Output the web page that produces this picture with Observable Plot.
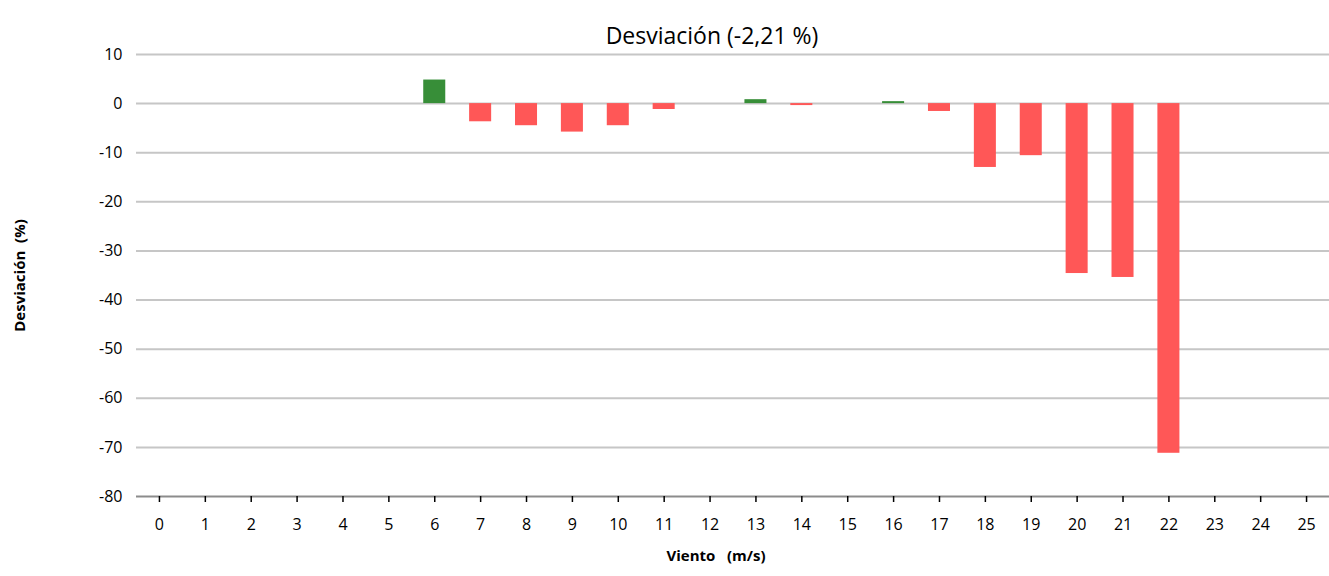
<!DOCTYPE html>
<html><head><meta charset="utf-8">
<script src="https://cdn.jsdelivr.net/npm/d3@7"></script>
<script src="https://cdn.jsdelivr.net/npm/@observablehq/plot@0.6"></script>
<style>body{margin:0;background:#fff;}</style>
</head><body><div id="chart"></div>
<script>
const title = "Desviación (-2,21 %)";
const xLabel = "Viento\u00a0\u00a0\u00a0(m/s)";
const yLabel = "Desviación\u00a0\u00a0(%)";
const windSpeeds = [0,1,2,3,4,5,6,7,8,9,10,11,12,13,14,15,16,17,18,19,20,21,22,23,24,25];
const deviation = [0,0,0,0,0,0,4.8,-3.7,-4.5,-5.8,-4.5,-1.2,0,0.8,-0.4,0,0.4,-1.6,-13.0,-10.6,-34.6,-35.4,-71.2,0,0,0];
const yTicks = [10,0,-10,-20,-30,-40,-50,-60,-70,-80];
const gridTicks = [10,0,-10,-20,-30,-40,-50,-60,-70];

const data = windSpeeds.map((w, i) => ({wind: String(w), dev: deviation[i]}));
const green = "#378e38", red = "#ff5757";

const chart = Plot.plot({
  width: 1329, height: 576,
  marginLeft: 136, marginRight: 0, marginTop: 54, marginBottom: 80,
  style: {fontFamily: "'Open Sans', sans-serif", fontSize: "16px", color: "#000", background: "#fff"},
  x: {type: "band", domain: windSpeeds.map(String), paddingInner: 0.52, paddingOuter: 0.26, round: false},
  y: {domain: [-80, 10]},
  marks: [
    Plot.ruleY(gridTicks, {stroke: "#c6c6c6", strokeWidth: 2}),
    Plot.ruleY([-80], {stroke: "#8c8c8c", strokeWidth: 2}),
    Plot.barY(data.filter(d => d.dev !== 0), {x: "wind", y: "dev", fill: d => d.dev >= 0 ? green : red}),
    Plot.axisY({ticks: yTicks, tickSize: 0, tickPadding: 14, label: null, tickFormat: d => String(d), fontSize: 16}),
    Plot.axisX({tickSize: 6, tickPadding: 16, label: null, stroke: "#000", strokeWidth: 1.5, fontSize: 16}),
    Plot.text([title], {frameAnchor: "top", dx: -21, dy: -27, fontSize: 23}),
    Plot.text([xLabel], {frameAnchor: "bottom", dx: -17, dy: 64, fontSize: 15, fontWeight: "bold"}),
    Plot.text([yLabel], {frameAnchor: "left", textAnchor: "middle", dx: -116, rotate: -90, fontSize: 15, fontWeight: "bold"})
  ]
});
document.getElementById("chart").appendChild(chart);
</script>
</body></html>
